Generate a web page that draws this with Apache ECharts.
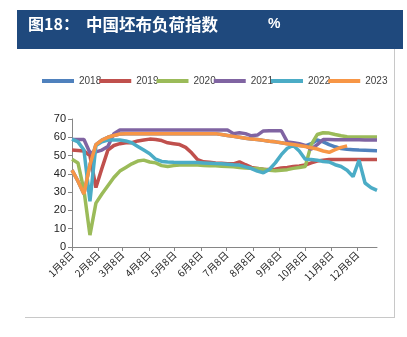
<!DOCTYPE html>
<html>
<head>
<meta charset="utf-8">
<script src="https://cdn.jsdelivr.net/npm/echarts@6/dist/echarts.min.js"></script>
<style>
html,body{margin:0;padding:0;background:#fff;}
#chart{width:407px;height:337px;}
</style>
</head>
<body>
<div id="chart"></div>
<script>
// weekly points, week 0 = 1月8日
var years = ['2018', '2019', '2020', '2021', '2022', '2023'];
var colors = ['#4F81BD', '#C0504D', '#9BBB59', '#8064A2', '#4BACC6', '#F79646'];
var tickLabels = ['1月8日','2月8日','3月8日','4月8日','5月8日','6月8日','7月8日','8月8日','9月8日','10月8日','11月8日','12月8日'];
var tickDays = [0, 31, 59, 90, 120, 151, 181, 212, 243, 273, 304, 334];

var s2018 = [42,36,29,45,56,58.5,60,61,61.8,62,62,62,62,62,62,62,62,62,62,62,62,62,62,62,62,61.5,61,60.5,60,59.5,59,58.8,58.3,57.8,57.5,57,56.5,56,55.5,55.3,56.5,58.5,57.5,56,54.8,53.8,53.4,53.2,53,52.9,52.8,52.7];
var s2019 = [53,52.8,52.5,50,32.5,43,53,55.5,56.5,57,57,58,58.5,59,58.8,58.2,57,56.5,56,54.5,51.5,47.8,46.6,46.4,46,45.8,45.5,45.5,46.6,45,43.5,43,42.5,42.4,42.5,43.2,43.5,44,44.3,44.8,46,47,47.5,47.9,47.9,47.9,47.9,47.9,47.9,47.9,47.9,47.9];
var s2020 = [48,46,31,6.5,24,29,33.5,38,41.5,43.5,45.5,47,47.5,46.5,46,44.5,44,44.5,44.8,44.8,44.8,44.8,44.6,44.5,44.4,44.2,44,43.9,43.5,43.2,43,42.9,42.5,42,41.7,42,42.3,43,43.5,44,56,61.5,62.5,62.3,61.5,60.8,60.3,60.2,60.2,60.2,60.2,60.2];
var s2021 = [58.8,58.8,58.8,51.5,52,53,55,62,64,64,64,64,64,64,64,64,64,64,64,64,64,64,64,64,64,64,64,62,62.5,62,60.8,61.2,63.5,63.6,63.6,63.6,57.5,57,56.5,55.5,53.5,56,58.8,58.8,58.7,58.7,58.6,58.6,58.6,58.5,58.5,58.5];
var s2022 = [59,57.5,53,25,55.5,57.5,58.5,58.5,58.5,58,57,55,53,51,48,46.8,46.5,46.3,46.2,46.2,46.2,46.2,46,45.8,45.6,45.5,45.3,45,44.8,43.8,42.9,41.5,40.6,42.4,46,50.5,54,55.5,52.5,48,47.8,47.5,46.8,46.5,45,44,42,38.5,47.5,35,32.5,31];
var s2023 = [42,36,29,45,56,58.5,60,61,61.8,62,62,62,62,62,62,62,62,62,62,62,62,62,62,62,62,61.5,61,60.5,60,59.5,59,58.8,58.3,57.8,57.5,57,56.5,56,55.5,55,54.3,53.6,52.5,51.8,53.2,54.5,55.3];
var seriesValues = [s2018, s2019, s2020, s2021, s2022, s2023];

var tickWeeks = tickDays.map(function (d) { return d / 7; });

var chart = echarts.init(document.getElementById('chart'));
var option = {
  backgroundColor: '#fff',
  animation: false,
  color: colors,
  graphic: [
    { type: 'rect', shape: { x: 17, y: 10, width: 386, height: 39 }, style: { fill: '#1F497D' }, silent: true },
    { type: 'text', left: 28, top: 16,
      style: {
        text: '{a|图18：}{b|中国坯布负荷指数}{c|%}',
        rich: {
          a: { fill: '#fff', font: 'bold 16px "Noto Sans CJK SC"', width: 58 },
          b: { fill: '#fff', font: 'bold 16.5px "Noto Sans CJK SC"', width: 182 },
          c: { fill: '#fff', font: 'bold 14px "Liberation Sans"' }
        }
      }
    },
    { type: 'line', shape: { x1: 394.5, y1: 49, x2: 394.5, y2: 317 }, style: { stroke: '#C8C8C8', lineWidth: 1 }, silent: true },
    { type: 'line', shape: { x1: 25, y1: 317.5, x2: 395, y2: 317.5 }, style: { stroke: '#C8C8C8', lineWidth: 1 }, silent: true }
  ],
  legend: {
    left: 37, top: 71,
    icon: 'rect', itemWidth: 32, itemHeight: 4, itemGap: -2,
    textStyle: { fontSize: 10, color: '#404040', fontFamily: 'Liberation Sans' },
    data: years
  },
  grid: { left: 72, right: 30, top: 119, bottom: 90, containLabel: false },
  xAxis: {
    type: 'value', min: 0, max: 51,
    splitLine: { show: false },
    axisLine: { show: true, lineStyle: { color: '#868686', width: 1 } },
    axisTick: { show: true, length: 4, lineStyle: { color: '#868686' }, customValues: tickWeeks },
    axisLabel: {
      rotate: 45, fontSize: 10, color: '#222', fontFamily: 'Noto Sans CJK SC', margin: 6,
      customValues: tickWeeks,
      formatter: function (v) {
        for (var i = 0; i < tickWeeks.length; i++) {
          if (Math.abs(tickWeeks[i] - v) < 1e-6) return tickLabels[i];
        }
        return '';
      }
    }
  },
  yAxis: {
    type: 'value', min: 0, max: 70, interval: 10,
    splitLine: { show: false },
    axisLine: { show: true, lineStyle: { color: '#868686', width: 1 } },
    axisTick: { show: true, length: 4, lineStyle: { color: '#868686' } },
    axisLabel: { fontSize: 11, color: '#222', fontFamily: 'Liberation Sans', margin: 6 }
  },
  series: years.map(function (y, k) {
    return {
      name: y, type: 'line', showSymbol: false, symbol: 'none',
      lineStyle: { width: 3.5, color: colors[k] },
      itemStyle: { color: colors[k] },
      data: seriesValues[k].map(function (v, i) { return [i, v]; })
    };
  })
};
chart.setOption(option);
</script>
</body>
</html>
